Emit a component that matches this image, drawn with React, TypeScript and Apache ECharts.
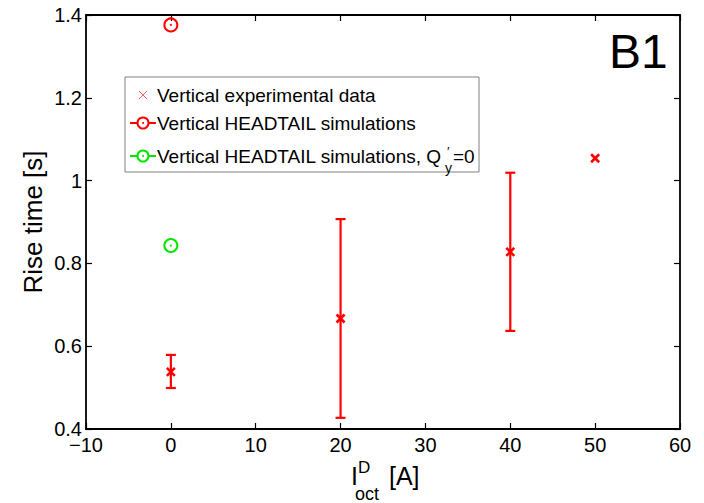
import React, { useEffect, useRef } from "react";
import * as echarts from "echarts";

// Experimental data (red crosses with error bars)
const expX = [0, 20, 40, 50];
const expY = [0.538, 0.667, 0.828, 1.054];
const expLow: (number | null)[] = [0.499, 0.427, 0.637, null];
const expHigh: (number | null)[] = [0.579, 0.907, 1.019, null];

// HEADTAIL simulations
const simX = [0];
const simY = [1.376];
// HEADTAIL simulations, Q'y = 0
const simQ0X = [0];
const simQ0Y = [0.843];

const xTicks = [-10, 0, 10, 20, 30, 40, 50, 60];
const yTicks = [0.4, 0.6, 0.8, 1, 1.2, 1.4];

const RED = "#ff0000";
const GREEN = "#00e600";
const FONT = "'Liberation Sans', Arial, sans-serif";

export default function App() {
  const ref = useRef<HTMLDivElement>(null);
  useEffect(() => {
    if (!ref.current) return;
    const chart = echarts.init(ref.current, undefined, { renderer: "svg" });

    const crossRender = (params: any, api: any) => {
      const x = api.value(0);
      const y = api.value(1);
      const lo = api.value(2);
      const hi = api.value(3);
      const p = api.coord([x, y]);
      const children: any[] = [];
      const st = { stroke: RED, lineWidth: 2.2 };
      if (lo !== null && !isNaN(lo) && hi !== null && !isNaN(hi)) {
        const pl = api.coord([x, lo]);
        const ph = api.coord([x, hi]);
        children.push({ type: "line", shape: { x1: pl[0], y1: pl[1], x2: ph[0], y2: ph[1] }, style: st });
        children.push({ type: "line", shape: { x1: pl[0] - 5, y1: pl[1], x2: pl[0] + 5, y2: pl[1] }, style: st });
        children.push({ type: "line", shape: { x1: ph[0] - 5, y1: ph[1], x2: ph[0] + 5, y2: ph[1] }, style: st });
      }
      const s = 4;
      children.push({ type: "line", shape: { x1: p[0] - s, y1: p[1] - s, x2: p[0] + s, y2: p[1] + s }, style: { stroke: RED, lineWidth: 2.6 } });
      children.push({ type: "line", shape: { x1: p[0] - s, y1: p[1] + s, x2: p[0] + s, y2: p[1] - s }, style: { stroke: RED, lineWidth: 2.6 } });
      return { type: "group", children };
    };

    const circleRender = (color: string) => (params: any, api: any) => {
      const p = api.coord([api.value(0), api.value(1)]);
      return {
        type: "group",
        children: [
          { type: "circle", shape: { cx: p[0], cy: p[1], r: 6.5 }, style: { fill: "none", stroke: color, lineWidth: 2 } },
          { type: "circle", shape: { cx: p[0], cy: p[1], r: 1 }, style: { fill: color } },
        ],
      };
    };

    const legendX = 125, legendY = 77, legendW = 354, legendH = 95;
    const textStyle = (text: string, x: number, y: number, size = 19, extra: any = {}) => ({
      type: "text",
      x,
      y,
      style: { text, fill: "#000", font: `${size}px ${FONT}`, textVerticalAlign: "middle", ...extra },
      z: 100,
    });
    const rowY = [95, 123, 156];

    const graphic: any[] = [
      { type: "rect", shape: { x: legendX, y: legendY, width: legendW, height: legendH }, style: { fill: "#fff", stroke: "#808080", lineWidth: 1 }, z: 90 },
      // row 1: cross
      { type: "line", shape: { x1: 139, y1: rowY[0] - 4, x2: 147, y2: rowY[0] + 4 }, style: { stroke: "#ff6060", lineWidth: 1 }, z: 100 },
      { type: "line", shape: { x1: 139, y1: rowY[0] + 4, x2: 147, y2: rowY[0] - 4 }, style: { stroke: "#ff6060", lineWidth: 1 }, z: 100 },
      textStyle("Vertical experimental data", 157, rowY[0]),
      // row 2: red line + circle
      { type: "line", shape: { x1: 130, y1: rowY[1], x2: 156, y2: rowY[1] }, style: { stroke: RED, lineWidth: 2 }, z: 100 },
      { type: "circle", shape: { cx: 143, cy: rowY[1], r: 5.5 }, style: { fill: "#fff", stroke: RED, lineWidth: 2 }, z: 101 },
      { type: "circle", shape: { cx: 143, cy: rowY[1], r: 1 }, style: { fill: RED }, z: 102 },
      textStyle("Vertical HEADTAIL simulations", 157, rowY[1]),
      // row 3: green line + circle
      { type: "line", shape: { x1: 130, y1: rowY[2], x2: 156, y2: rowY[2] }, style: { stroke: GREEN, lineWidth: 2 }, z: 100 },
      { type: "circle", shape: { cx: 143, cy: rowY[2], r: 5.5 }, style: { fill: "#fff", stroke: GREEN, lineWidth: 2 }, z: 101 },
      { type: "circle", shape: { cx: 143, cy: rowY[2], r: 1 }, style: { fill: GREEN }, z: 102 },
      textStyle("Vertical HEADTAIL simulations, Q", 157, rowY[2]),
      textStyle("\u2032", 447, rowY[2] - 5, 13),
      textStyle("y", 445, rowY[2] + 12, 14),
      textStyle("=0", 453, rowY[2]),
      // B1 label
      textStyle("B1", 609, 51, 48),
      // x-axis name
      textStyle("I", 351, 476, 25),
      textStyle("D", 358, 467, 17),
      textStyle("oct", 355, 494, 18),
      textStyle("[A]", 389, 476, 25),
    ];

    const axisCommon = {
      axisLine: { show: true, onZero: false, lineStyle: { color: "#000", width: 1.8 } },
      axisTick: { show: true, inside: true, length: 6, lineStyle: { color: "#000", width: 1.2 } },
      splitLine: { show: false },
    };

    chart.setOption({
      animation: false,
      backgroundColor: "#fff",
      textStyle: { fontFamily: FONT },
      grid: { left: 86, right: 24, top: 15, bottom: 74, containLabel: false },
      xAxis: [
        {
          type: "value",
          min: -10,
          max: 60,
          interval: 10,
          position: "bottom",
          ...axisCommon,
          axisLabel: {
            color: "#000",
            fontSize: 20,
            fontFamily: FONT,
            margin: 6,
            formatter: (v: number) => (xTicks.includes(v) ? (v < 0 ? "\u2212" + Math.abs(v) : String(v)) : ""),
          },
        },
        {
          type: "value",
          min: -10,
          max: 60,
          interval: 10,
          position: "top",
          ...axisCommon,
          axisLabel: { show: false },
        },
      ],
      yAxis: [
        {
          type: "value",
          min: 0.4,
          max: 1.4,
          interval: 0.2,
          position: "left",
          ...axisCommon,
          name: "Rise time [s]",
          nameLocation: "middle",
          nameGap: 40,
          nameMoveOverlap: false,
          nameRotate: 90,
          nameTextStyle: { color: "#000", fontSize: 26, fontFamily: FONT },
          axisLabel: {
            color: "#000",
            fontSize: 20,
            fontFamily: FONT,
            margin: 4,
            formatter: (v: number) => {
              const r = Math.round(v * 10) / 10;
              return yTicks.some((t) => Math.abs(t - r) < 1e-6) ? String(r) : "";
            },
          },
        },
        {
          type: "value",
          min: 0.4,
          max: 1.4,
          interval: 0.2,
          position: "right",
          ...axisCommon,
          axisLabel: { show: false },
        },
      ],
      series: [
        {
          type: "custom",
          name: "Vertical experimental data",
          renderItem: crossRender,
          data: expX.map((x, i) => [x, expY[i], expLow[i], expHigh[i]]),
          encode: { x: 0, y: [1, 2, 3] },
          clip: false,
        },
        {
          type: "custom",
          name: "Vertical HEADTAIL simulations",
          renderItem: circleRender(RED),
          data: simX.map((x, i) => [x, simY[i]]),
          clip: false,
        },
        {
          type: "custom",
          name: "Vertical HEADTAIL simulations, Q'y=0",
          renderItem: circleRender(GREEN),
          data: simQ0X.map((x, i) => [x, simQ0Y[i]]),
          clip: false,
        },
      ],
      graphic,
    });
    return () => chart.dispose();
  }, []);

  return <div ref={ref} style={{ position: "fixed", left: 0, top: 0, width: 704, height: 503 }} />;
}
